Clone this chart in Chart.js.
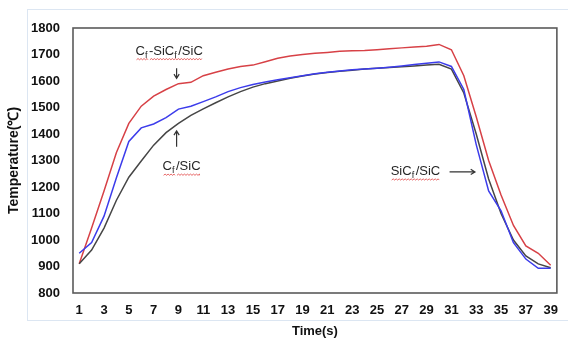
<!DOCTYPE html>
<html>
<head>
<meta charset="utf-8">
<script src="https://cdn.jsdelivr.net/npm/chart.js@4"></script>
<style>
  html, body { margin: 0; padding: 0; background: #fff; }
  #wrap { position: relative; width: 568px; height: 338px; overflow: hidden; }
  #frame { position: absolute; left: 27px; top: 9px; width: 560px; height: 310px; border: 1px solid #dce6f2; }
  canvas { position: absolute; left: 0; top: 0; }
</style>
</head>
<body>
<div id="wrap">
  <div id="frame"></div>
  <canvas id="myChart" width="568" height="338"></canvas>
</div>
<script>
// time (s)
const times = [1, 2, 3, 4, 5, 6, 7, 8, 9, 10, 11, 12, 13, 14, 15, 16, 17, 18, 19, 20,
               21, 22, 23, 24, 25, 26, 27, 28, 29, 30, 31, 32, 33, 34, 35, 36, 37, 38, 39];

// Cf-SiCf/SiC (red)
const tempCfSicf = [910, 1045, 1185, 1330, 1440, 1505, 1543, 1568, 1590, 1595,
                    1620, 1633, 1645, 1655, 1660, 1673, 1686, 1694, 1700, 1705,
                    1708, 1712, 1714, 1715, 1718, 1722, 1725, 1728, 1731, 1738,
                    1718, 1620, 1465, 1300, 1170, 1055, 978, 950, 905];

// SiCf/SiC (blue)
const tempSicf = [950, 990, 1090, 1235, 1372, 1423, 1438, 1462, 1494, 1505,
                  1522, 1540, 1560, 1575, 1587, 1596, 1605, 1612, 1620, 1627,
                  1633, 1638, 1642, 1645, 1648, 1652, 1657, 1662, 1667, 1672,
                  1655, 1568, 1360, 1185, 1110, 990, 928, 893, 893];

// Cf/SiC (black)
const tempCf = [910, 962, 1045, 1150, 1237, 1298, 1358, 1405, 1440, 1470,
                1495, 1518, 1540, 1560, 1577, 1590, 1600, 1610, 1619, 1626,
                1632, 1637, 1641, 1645, 1648, 1651, 1654, 1657, 1660, 1663,
                1645, 1555, 1400, 1230, 1100, 1000, 940, 910, 895];

// labels drawn in the plot: parts as [text, isSubscript], position in data units (x = category index)
const notes = [
    { parts: [['C', 0], ['f', 1], ['-SiC', 0], ['f', 1], ['/SiC', 0]], x: 7.25, y: 1716, wavy: [[0, 1], [2, 4]] },
    { parts: [['C', 0], ['f', 1], ['/SiC', 0]], x: 8.25, y: 1280, wavy: [[0, 1], [2, 2]] },
    { parts: [['SiC', 0], ['f', 1], ['/SiC', 0]], x: 27.1, y: 1262, wavy: [[0, 2]] }
];
// arrows: from -> to, data units
const arrows = [
    { x1: 7.85, y1: 1648, x2: 7.85, y2: 1610 },
    { x1: 7.85, y1: 1352, x2: 7.85, y2: 1412 },
    { x1: 29.85, y1: 1257, x2: 31.9, y2: 1257 }
];

const FONT = '"Liberation Sans", Arial, sans-serif';

const boxPlugin = {
    id: 'boxPlugin',
    afterDraw(chart) {
        const ctx = chart.ctx;
        const a = chart.chartArea;
        const xs = chart.scales.x, ys = chart.scales.y;
        ctx.save();
        ctx.strokeStyle = '#5a5a5a';
        ctx.lineWidth = 1.6;
        ctx.strokeRect(a.left, a.top, a.right - a.left, a.bottom - a.top);

        // text labels with subscripts
        notes.forEach(n => {
            const cx = xs.getPixelForValue(n.x);
            const cy = ys.getPixelForValue(n.y);
            const widths = n.parts.map(p => {
                ctx.font = p[1] ? '9px ' + FONT : '13px ' + FONT;
                return ctx.measureText(p[0]).width + (p[1] ? 1.5 : 0);
            });
            const total = widths.reduce((s, w) => s + w, 0);
            let x = cx - total / 2;
            const base = cy + 4.5;
            const starts = [];
            ctx.fillStyle = '#262626';
            ctx.textBaseline = 'alphabetic';
            ctx.textAlign = 'left';
            n.parts.forEach((p, i) => {
                starts.push(x);
                ctx.font = p[1] ? '9px ' + FONT : '13px ' + FONT;
                ctx.fillText(p[0], x, p[1] ? base + 3 : base);
                x += widths[i];
            });
            starts.push(x);
            // red spell-check squiggles
            ctx.strokeStyle = '#e04040';
            ctx.lineWidth = 0.8;
            n.wavy.forEach(r => {
                let sx = starts[r[0]] + 1;
                const ex = starts[r[1] + 1] - 1;
                const wy = base + 5;
                ctx.beginPath();
                ctx.moveTo(sx, wy);
                let up = true;
                while (sx < ex) {
                    sx += 1.5;
                    ctx.lineTo(Math.min(sx, ex), up ? wy - 1.2 : wy);
                    up = !up;
                }
                ctx.stroke();
            });
        });

        // arrows
        ctx.strokeStyle = '#333';
        ctx.lineWidth = 1.2;
        arrows.forEach(ar => {
            const x1 = xs.getPixelForValue(ar.x1), y1 = ys.getPixelForValue(ar.y1);
            const x2 = xs.getPixelForValue(ar.x2), y2 = ys.getPixelForValue(ar.y2);
            const ang = Math.atan2(y2 - y1, x2 - x1);
            ctx.beginPath();
            ctx.moveTo(x1, y1);
            ctx.lineTo(x2, y2);
            ctx.moveTo(x2 - 5 * Math.cos(ang - 0.55), y2 - 5 * Math.sin(ang - 0.55));
            ctx.lineTo(x2, y2);
            ctx.lineTo(x2 - 5 * Math.cos(ang + 0.55), y2 - 5 * Math.sin(ang + 0.55));
            ctx.stroke();
        });
        ctx.restore();
    }
};

function plotChart() {
    const ctx = document.querySelector('#myChart');

    new Chart(ctx, {
        type: 'line',
        data: {
            labels: times,
            datasets: [
                {
                    label: 'SiCf/SiC',
                    data: tempSicf,
                    borderColor: 'rgb(60, 60, 235)',
                    borderWidth: 1.5,
                    pointRadius: 0,
                    tension: 0
                },
                {
                    label: 'Cf/SiC',
                    data: tempCf,
                    borderColor: 'rgb(70, 70, 70)',
                    borderWidth: 1.5,
                    pointRadius: 0,
                    tension: 0
                },
                {
                    label: 'Cf-SiCf/SiC',
                    data: tempCfSicf,
                    borderColor: 'rgb(215, 65, 70)',
                    borderWidth: 1.5,
                    pointRadius: 0,
                    tension: 0
                }
            ]
        },
        options: {
            responsive: false,
            animation: false,
            layout: { padding: { top: 28, right: 8, left: 0, bottom: 0 } },
            plugins: {
                legend: { display: false },
                tooltip: { enabled: false }
            },
            scales: {
                x: {
                    offset: true,
                    grid: { display: false, drawTicks: false },
                    border: { display: false },
                    ticks: {
                        autoSkip: false,
                        maxRotation: 0,
                        padding: 10,
                        color: '#111',
                        font: { family: FONT, size: 13, weight: 'bold' },
                        callback: function (val, i) { return i % 2 === 0 ? times[i] : ''; }
                    },
                    title: {
                        display: true,
                        text: 'Time(s)',
                        color: '#111',
                        font: { family: FONT, size: 13, weight: 'bold', lineHeight: 1 },
                        padding: { top: 0, bottom: 0 }
                    },
                    afterFit(scale) { scale.height = 45; }
                },
                y: {
                    min: 800,
                    max: 1800,
                    grid: { display: false, drawTicks: false },
                    border: { display: false },
                    ticks: {
                        stepSize: 100,
                        padding: 13,
                        color: '#111',
                        font: { family: FONT, size: 13, weight: 'bold' },
                        callback: function (val) { return String(val); }
                    },
                    title: {
                        display: true,
                        text: 'Temperature(℃)',
                        color: '#111',
                        font: { family: FONT, size: 14, weight: 'bold', lineHeight: 1 },
                        padding: { top: 7, bottom: 0 }
                    },
                    afterFit(scale) { scale.width = 73; }
                }
            }
        },
        plugins: [boxPlugin]
    });
}

document.addEventListener("DOMContentLoaded", plotChart);
</script>
</body>
</html>
